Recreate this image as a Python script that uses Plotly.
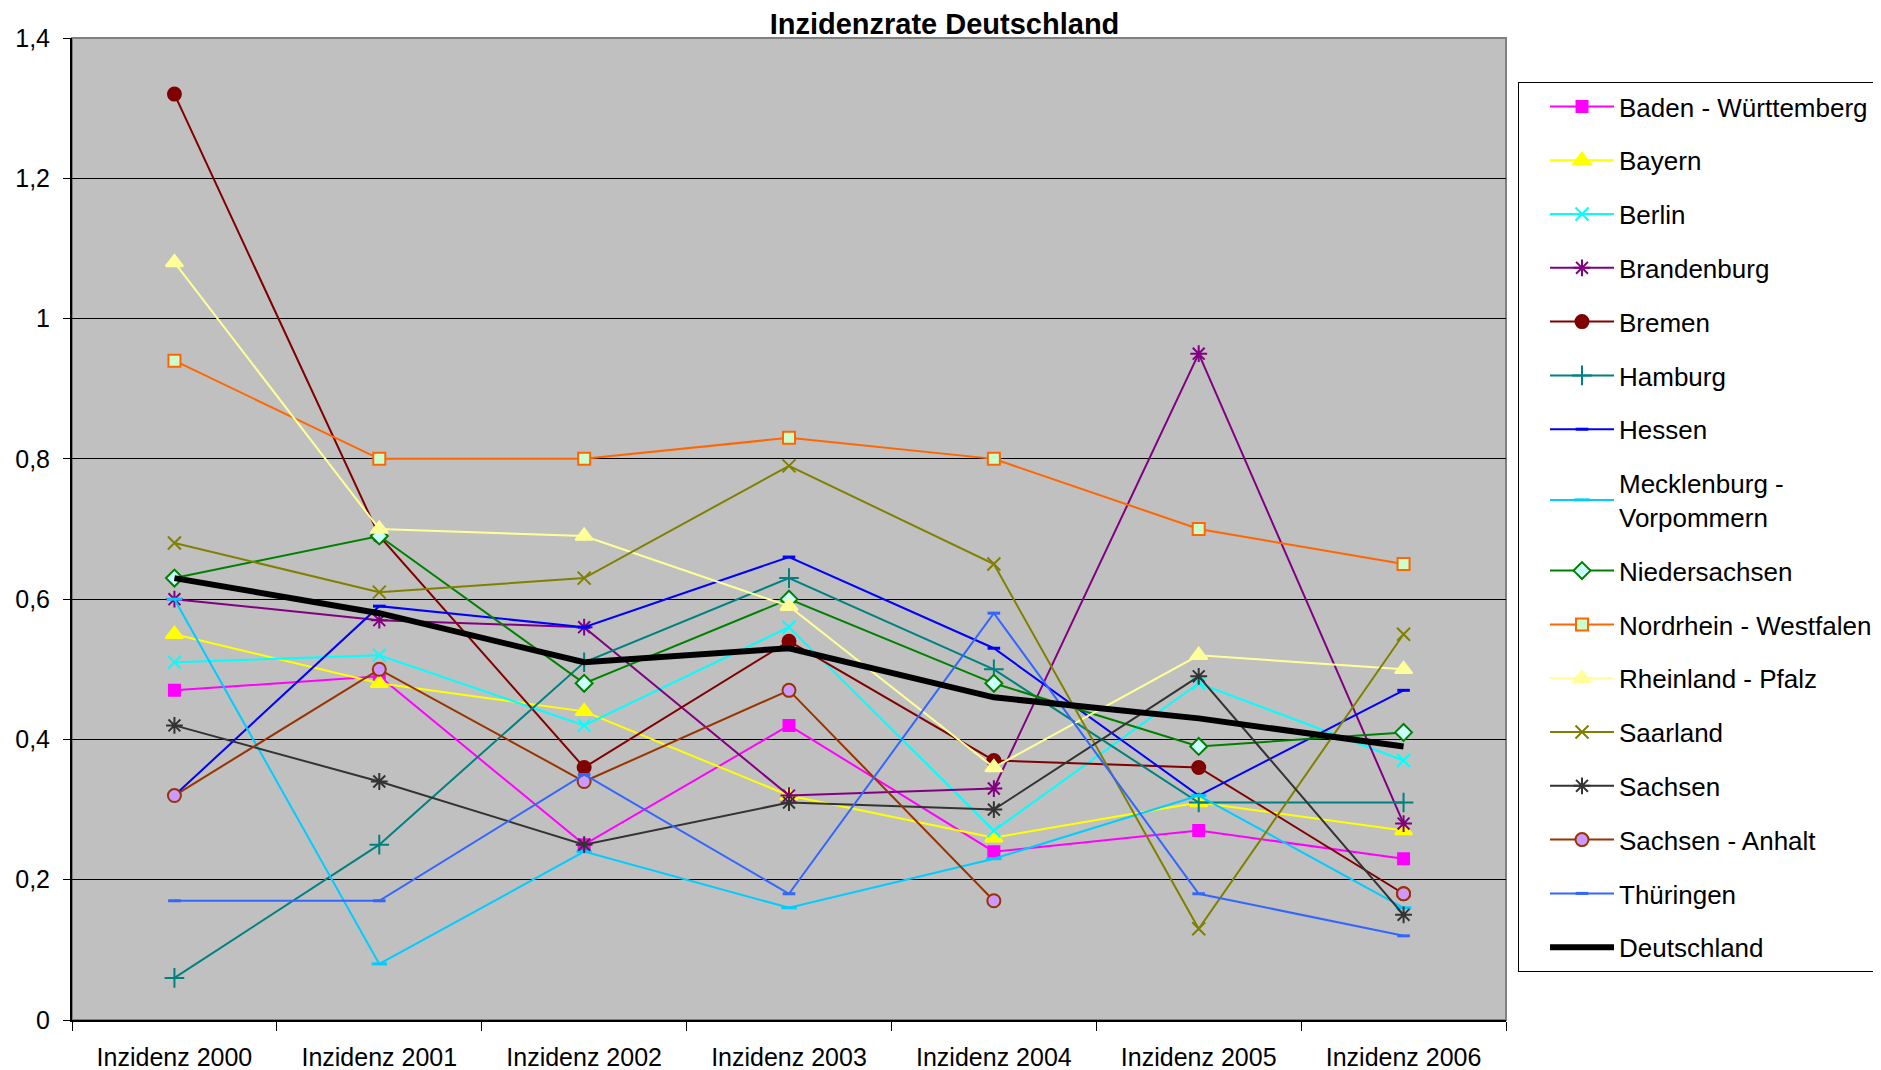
import plotly.graph_objects as go

categories = ["Inzidenz 2000", "Inzidenz 2001", "Inzidenz 2002", "Inzidenz 2003",
              "Inzidenz 2004", "Inzidenz 2005", "Inzidenz 2006"]

baden_wuerttemberg = [0.47, 0.49, 0.25, 0.42, 0.24, 0.27, 0.23]
bayern = [0.55, 0.48, 0.44, 0.32, 0.26, 0.31, 0.27]
berlin = [0.51, 0.52, 0.42, 0.56, 0.27, 0.48, 0.37]
brandenburg = [0.60, 0.57, 0.56, 0.32, 0.33, 0.95, 0.28]
bremen = [1.32, 0.69, 0.36, 0.54, 0.37, 0.36, 0.18]
hamburg = [0.06, 0.25, 0.51, 0.63, 0.50, 0.31, 0.31]
hessen = [0.32, 0.59, 0.56, 0.66, 0.53, 0.32, 0.47]
mecklenburg = [0.60, 0.08, 0.24, 0.16, 0.23, 0.32, 0.16]
niedersachsen = [0.63, 0.69, 0.48, 0.60, 0.48, 0.39, 0.41]
nrw = [0.94, 0.80, 0.80, 0.83, 0.80, 0.70, 0.65]
rheinland_pfalz = [1.08, 0.70, 0.69, 0.59, 0.36, 0.52, 0.50]
saarland = [0.68, 0.61, 0.63, 0.79, 0.65, 0.13, 0.55]
sachsen = [0.42, 0.34, 0.25, 0.31, 0.30, 0.49, 0.15]
sachsen_anhalt = [0.32, 0.50, 0.34, 0.47, 0.17, None, 0.18]
thueringen = [0.17, 0.17, 0.35, 0.18, 0.58, 0.18, 0.12]
deutschland = [0.63, 0.58, 0.51, 0.53, 0.46, 0.43, 0.39]

y_tickvals = [0, 0.2, 0.4, 0.6, 0.8, 1.0, 1.2, 1.4]
y_ticktext = ["0", "0,2", "0,4", "0,6", "0,8", "1", "1,2", "1,4"]

# name, values, line colour, marker symbol, marker fill, marker line colour, size
series = [
    ("Baden - Württemberg", baden_wuerttemberg, "#FF00FF", "square", "#FF00FF", "#FF00FF", 11),
    ("Bayern", bayern, "#FFFF00", "triangle-up", "#FFFF00", "#FFFF00", 15),
    ("Berlin", berlin, "#00FFFF", "x-thin", "#00FFFF", "#00FFFF", 13),
    ("Brandenburg", brandenburg, "#800080", "asterisk", "#800080", "#800080", 14),
    ("Bremen", bremen, "#800000", "circle", "#800000", "#800000", 13),
    ("Hamburg", hamburg, "#008080", "cross-thin", "#008080", "#008080", 14),
    ("Hessen", hessen, "#0000FF", "line-ew", "#0000FF", "#0000FF", 9),
    ("Mecklenburg -<br>Vorpommern", mecklenburg, "#00CCFF", "line-ew", "#00CCFF", "#00CCFF", 11),
    ("Niedersachsen", niedersachsen, "#008000", "diamond", "#CCFFFF", "#008000", 13),
    ("Nordrhein - Westfalen", nrw, "#FF6600", "square", "#CCFFCC", "#FF6600", 12),
    ("Rheinland - Pfalz", rheinland_pfalz, "#FFFF99", "triangle-up", "#FFFF99", "#FFFF99", 15),
    ("Saarland", saarland, "#808000", "x-thin", "#808000", "#808000", 13),
    ("Sachsen", sachsen, "#333333", "asterisk", "#333333", "#333333", 14),
    ("Sachsen - Anhalt", sachsen_anhalt, "#993300", "circle", "#CC99FF", "#993300", 13),
    ("Thüringen", thueringen, "#3366FF", "line-ew", "#3366FF", "#3366FF", 9),
]

fig = go.Figure()
for name, vals, lc, sym, fill, mlc, size in series:
    lw = 3 if sym == "line-ew" else 2
    fig.add_trace(go.Scatter(
        x=categories, y=vals, name=name, mode="lines+markers",
        legendgroup=name,
        line=dict(color=lc, width=2),
        marker=dict(symbol=sym, size=size, color=fill,
                    line=dict(color=mlc, width=lw)),
        connectgaps=False,
    ))

fig.add_trace(go.Scatter(
    x=categories, y=deutschland, name="Deutschland", mode="lines",
    legendgroup="Deutschland",
    line=dict(color="#000000", width=6),
))

W, H = 1873, 1062

fig.update_layout(
    width=W, height=H,
    margin=dict(l=64, r=W - 1498, t=30, b=H - 1012),
    paper_bgcolor="#FFFFFF",
    plot_bgcolor="#C0C0C0",
    font=dict(family="Liberation Sans, Arial, sans-serif", color="#000000", size=24),
    title=dict(text="<b>Inzidenzrate Deutschland</b>", x=0.5, xref="container",
               y=1 - 16 / H, yref="container", yanchor="middle", xanchor="center",
               font=dict(size=29, family="Liberation Sans, Arial, sans-serif")),
    showlegend=True,
    legend=dict(
        xref="container", yref="container",
        x=1510 / W, xanchor="left", y=1 - 74 / H, yanchor="top",
        bordercolor="#000000", borderwidth=1, bgcolor="#FFFFFF",
        font=dict(size=26), tracegroupgap=17, indentation=26,
        itemwidth=64, itemsizing="trace", maxheight=1000,
    ),
    shapes=[dict(type="rect", xref="paper", yref="paper", x0=0, x1=1, y0=0, y1=1,
                 line=dict(color="#808080", width=2), layer="below")],
)

fig.update_xaxes(
    type="category", range=[-0.5, 6.5],
    tickson="boundaries", ticks="outside", ticklen=9, tickwidth=1, tickcolor="#000000",
    showline=True, linecolor="#000000", linewidth=2,
    showgrid=False, tickfont=dict(size=25), ticklabelstandoff=14,
    automargin=False,
)
fig.update_yaxes(
    range=[0, 1.4], tickvals=y_tickvals, ticktext=y_ticktext,
    ticks="outside", ticklen=7, tickwidth=1, tickcolor="#000000",
    showline=True, linecolor="#000000", linewidth=2,
    showgrid=True, gridcolor="#000000", gridwidth=1,
    zeroline=False, tickfont=dict(size=25), ticklabelstandoff=8,
    automargin=False,
)

fig.write_html("out.html")
